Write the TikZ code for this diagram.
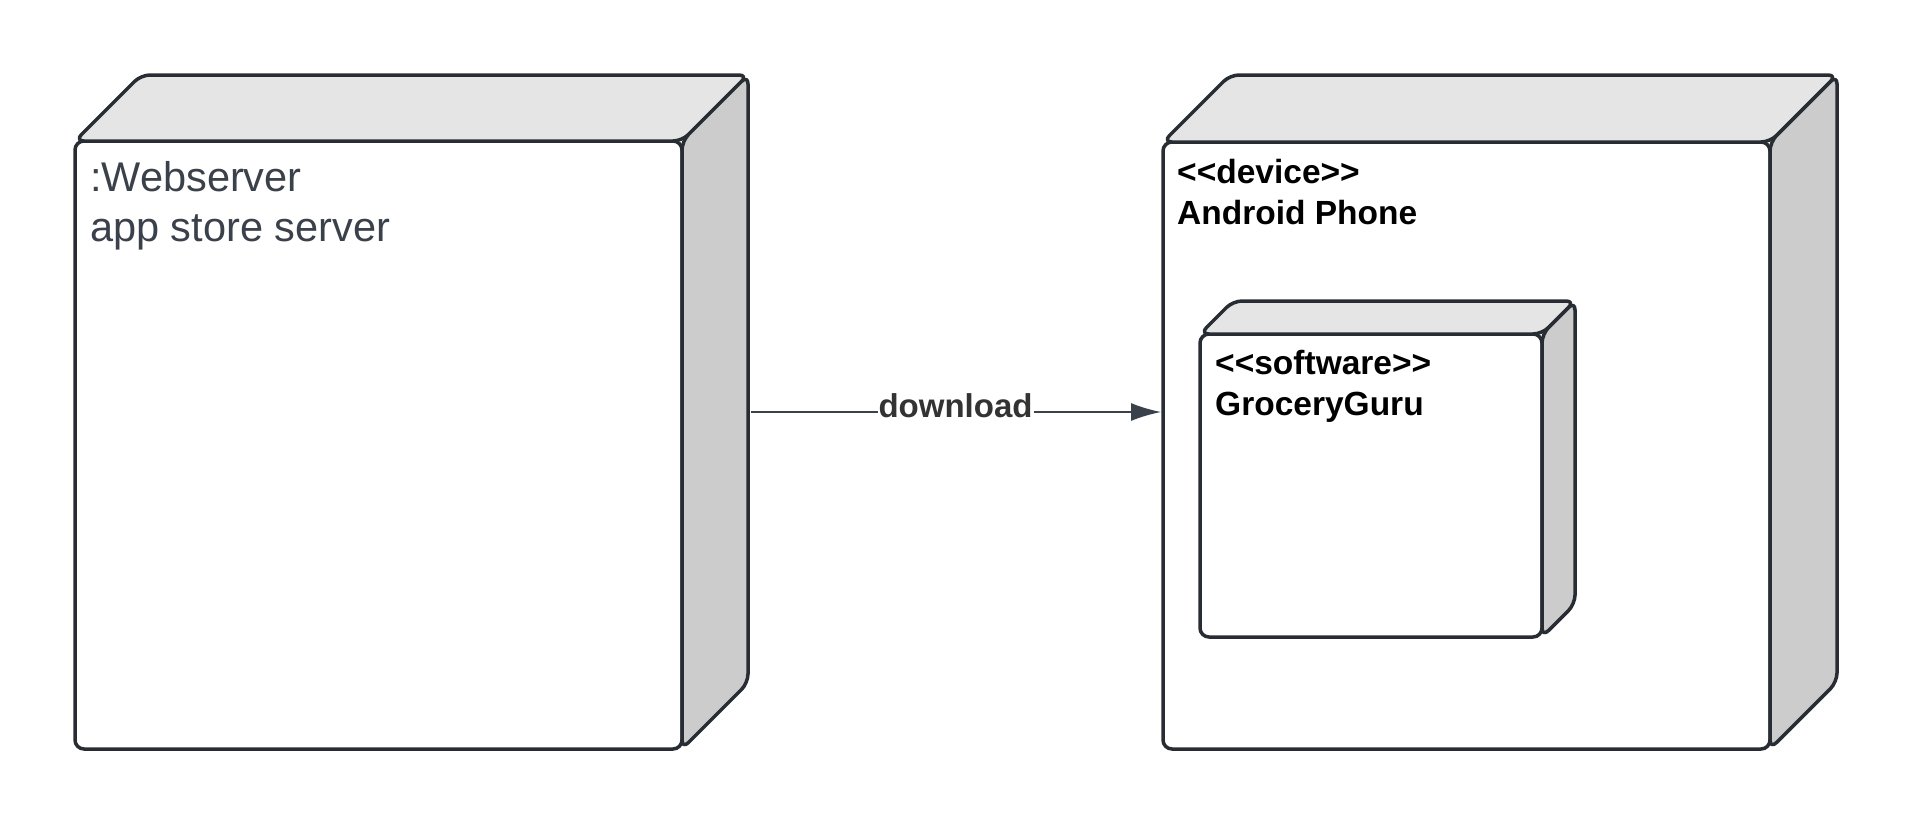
\documentclass[tikz,border=0pt]{standalone}
\usepackage{fontspec}
\setmainfont{Liberation Sans}
\usepackage{tikz}
\usetikzlibrary{positioning, arrows.meta}
\definecolor{edgegray}{HTML}{282C33}
\definecolor{topgray}{HTML}{E5E5E5}
\definecolor{sidegray}{HTML}{CCCCCC}
\definecolor{textgray}{HTML}{3A414A}
\definecolor{labelgray}{HTML}{333333}
\tikzstyle{udnode} = [rectangle, draw=none, inner sep=0pt, outer sep=0pt]
\tikzstyle{face} = [draw=edgegray, line width=3.5pt, line join=round, rounded corners=9pt]
\tikzset{
	front/.style={face, fill=white},
	topface/.style={face, fill=topgray},
	sideface/.style={face, fill=sidegray},
	nodetext/.style={inner sep=0pt, align=left},
	flow/.style={draw=textgray, line width=1.6pt, -{Latex[length=30pt, width=18pt]}},
}
% front, top and side of a deployment node
\newcommand{\udfaces}[2]{%
	\filldraw[front] (#1.south west) rectangle ([xshift=-#2, yshift=-#2]#1.north east);
	\filldraw[topface] ([yshift=-#2]#1.north west) -- ([xshift=#2]#1.north west)
		-- (#1.north east) -- ([xshift=-#2, yshift=-#2]#1.north east) -- cycle;
	\filldraw[sideface] ([xshift=-#2, yshift=-#2]#1.north east) -- (#1.north east)
		-- ([yshift=#2]#1.south east) -- ([xshift=-#2]#1.south east) -- cycle;
}

\begin{document}
\begin{tikzpicture}[x=1pt, y=-1pt]
\useasboundingbox (0,0) rectangle (1913,825);

\node [udnode, minimum width=673pt, minimum height=674pt] at (411.5,412) (web) {};
\node [udnode, minimum width=674pt, minimum height=674pt] at (1500,412) (phone) {};
\node [udnode, minimum width=375pt, minimum height=336pt] at (1387.5,469) (guru) {};

\udfaces{web}{66pt}
\udfaces{phone}{67pt}
\udfaces{guru}{33pt}

	%labels
\node [nodetext, below right=86pt and 15pt of web.north west, text=textgray,
	font=\fontsize{41.5}{50}\selectfont] (webtxt) {:Webserver\\app store server};
\node [nodetext, below right=84pt and 14pt of phone.north west,
	font=\bfseries\fontsize{33.5}{41}\selectfont] (phonetxt) {<{}<device>{}>\\Android Phone};
\node [nodetext, below right=49pt and 15pt of guru.north west,
	font=\bfseries\fontsize{33.5}{41}\selectfont] (gurutxt) {<{}<software>{}>\\GroceryGuru};

\draw[flow, shorten <=3pt, shorten >=2pt] (web.east) -- node[fill=white, inner xsep=1pt, inner ysep=0pt,
	yshift=6pt, text=labelgray, font=\bfseries\fontsize{33}{40}\selectfont] (dl) {download} (phone.west);

\end{tikzpicture}
\end{document}
